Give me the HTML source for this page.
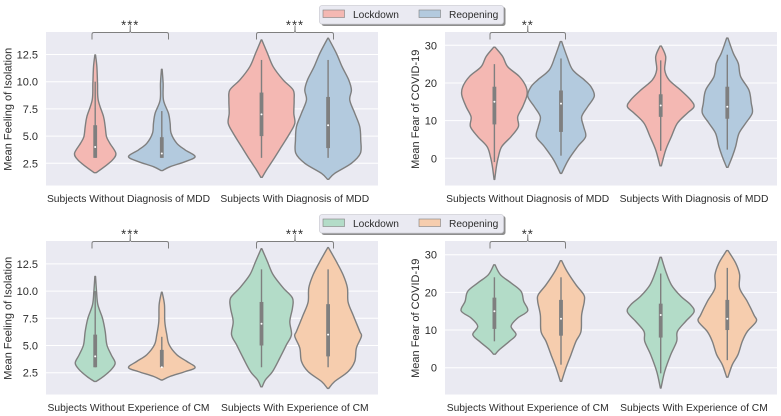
<!DOCTYPE html>
<html lang="en">
<head>
<meta charset="utf-8">
<title>Violin plots of isolation and fear of COVID-19</title>
<style>
html,body{margin:0;padding:0;background:#fff;width:781px;height:416px;overflow:hidden}
svg{display:block;font-family:"Liberation Sans",Arial,sans-serif;filter:blur(0.3px)}
text{fill:#2c2c2c}
</style>
</head>
<body>
<svg id="chart" width="781" height="416" viewBox="0 0 781 416" xmlns="http://www.w3.org/2000/svg"></svg>
<script>
// ---- Shared labels ----
const legendLabels = ['Lockdown', 'Reopening'];
const isolationTicks = [2.5, 5.0, 7.5, 10.0, 12.5];
const isolationTickLabels = ['2.5', '5.0', '7.5', '10.0', '12.5'];
const fearTicks = [0, 10, 20, 30];
const fearTickLabels = ['0', '10', '20', '30'];
const mddCategories = ['Subjects Without Diagnosis of MDD', 'Subjects With Diagnosis of MDD'];
const cmCategories = ['Subjects Without Experience of CM', 'Subjects With Experience of CM'];

// ---- Top-left: isolation by MDD. One row per violin ----
const isoMddLevels = [
  [12.46,11.38,9.85,8.32,6.79,5.87,4.95,4.34,3.42,2.81,2.19,1.64],
  [11.14,9.85,8.32,7.1,6.18,5.26,4.34,3.73,3.11,2.65,2.19,1.83],
  [13.84,12.6,11.38,10.16,9.24,8.32,7.1,6.18,5.26,4.03,2.81,1.89,1.21],
  [14.0,12.6,11.38,10.16,9.24,8.32,7.1,5.87,4.64,3.42,2.5,1.58,1.03]
];
const isoMddDensity = [
  [.01,.05,.07,.09,.25,.30,.34,.44,.62,.52,.28,.03],
  [.01,.04,.05,.20,.25,.28,.45,.70,1.0,.70,.25,.02],
  [.01,.18,.35,.65,.95,.98,.97,1.0,.85,.60,.35,.15,.02],
  [.01,.25,.42,.62,.70,.65,.80,.95,.98,.97,.70,.20,.02]
];
const isoMddStats = [[3,3,4,6,10],[3,3,3.4,4.9,7.3],[3,5,7,9,12],[3,3.9,6,8.6,12]];

// ---- Top-right: fear by MDD ----
const fearMddLevels = [
  [29.5,27,24.3,21.7,19,16.8,13.7,11,8.4,5.75,3.1,.44,-2.2,-5.6],
  [31,27,23.5,20.8,19,16.5,13.7,11,8.4,5.75,3.1,-.44,-4],
  [29.8,27,23.5,20.8,18.1,15.5,13.7,12,9.3,5.75,2.2,-2],
  [31.9,27.9,25.2,21.7,18.1,14.6,12,9.3,6.6,3.1,.44,-2.4]
];
const fearMddDensity = [
  [.02,.25,.40,.75,.95,.98,.85,.70,.72,.50,.22,.12,.06,.01],
  [.02,.18,.35,.70,.90,1.0,.80,.62,.68,.74,.50,.22,.02],
  [.02,.15,.12,.25,.60,.90,1.0,.80,.50,.32,.15,.02],
  [.02,.18,.33,.40,.65,.72,.75,.55,.35,.25,.15,.02]
];
const fearMddStats = [[-1,9,15,19,25],[.7,7,14.5,18,26.5],[2,11,14,17,26],[2.3,10.5,13.7,19,27.5]];

// ---- Bottom-left: isolation by CM ----
const isoCmLevels = [
  [11.35,9.98,8.75,7.5,6.3,5.07,4.15,3.39,2.78,2.16,1.7],
  [9.9,8.75,7.2,6,5.07,4.15,3.54,2.98,2.6,2.16,1.83],
  [13.9,12.7,11.5,10.3,9.36,8.44,7.2,6,5.07,3.85,2.6,1.85,1.2],
  [14,12.7,11.5,10.3,9,7.8,6.3,5.84,4.77,3.54,2.6,1.7,1.06]
];
const isoCmDensity = [
  [.01,.04,.08,.22,.30,.35,.48,.60,.48,.25,.03],
  [.01,.08,.09,.15,.22,.45,.75,1.0,.70,.25,.02],
  [.01,.18,.35,.65,.93,.93,.85,.90,.75,.55,.33,.12,.02],
  [.01,.25,.45,.58,.60,.75,.95,1.0,.85,.80,.60,.20,.02]
];
const isoCmStats = [[3,3,4,6,10],[3,3,3,4.6,5.8],[3,5,7,9,12],[3,4,6,8.8,12]];

// ---- Bottom-right: fear by CM ----
const fearCmLevels = [
  [27.3,24.7,22.5,20.3,17.6,15.1,13.2,11,8.8,7,4.8,3.6],
  [28.4,25.6,22,19.4,17.6,14,9.6,7,3.45,0,-3.6],
  [29.3,25.6,22,19,16.7,14.8,12.3,9.6,7,3.45,-1,-5.4],
  [31.1,27.8,24.7,21.1,17.6,14,12.3,9.6,7,3.45,.8,-2.5]
];
const fearCmDensity = [
  [.02,.18,.50,.80,.88,1.0,.70,.50,.65,.45,.15,.03],
  [.02,.18,.45,.68,.70,.62,.60,.45,.30,.15,.02],
  [.02,.15,.32,.60,.90,1.0,.75,.50,.48,.30,.12,.01],
  [.02,.25,.37,.37,.60,.80,.87,.60,.45,.32,.15,.02]
];
const fearCmStats = [[7,10.3,15,18.6,24],[.8,8.5,13,18,24],[-1.5,8,14,17,25],[2,10,13,18,26.5]];

const NS = 'http://www.w3.org/2000/svg';
const svg = document.getElementById('chart');
const GREY = '#7f7f7f';

function make(parent, tag, attrs, txt) {
  const n = document.createElementNS(NS, tag);
  for (const k in attrs) n.setAttribute(k, attrs[k]);
  if (txt !== undefined) n.textContent = txt;
  parent.appendChild(n);
  return n;
}

// Smooth curve through the outline points
function smooth(pts) {
  let d = 'M' + pts[0][0].toFixed(2) + ' ' + pts[0][1].toFixed(2);
  for (let i = 0; i < pts.length - 1; i++) {
    const p0 = pts[i - 1] || pts[i], p1 = pts[i], p2 = pts[i + 1], p3 = pts[i + 2] || p2;
    const c1x = p1[0] + (p2[0] - p0[0]) / 6, c1y = p1[1] + (p2[1] - p0[1]) / 6;
    const c2x = p2[0] - (p3[0] - p1[0]) / 6, c2y = p2[1] - (p3[1] - p1[1]) / 6;
    d += 'C' + c1x.toFixed(2) + ' ' + c1y.toFixed(2) + ' ' + c2x.toFixed(2) + ' ' + c2y.toFixed(2) + ' ' + p2[0].toFixed(2) + ' ' + p2[1].toFixed(2);
  }
  return d;
}

function drawBracket(parent, x0, x1, top) {
  const mid = (x0 + x1) / 2;
  const d = 'M' + x0 + ' ' + (top + 7) + 'V' + (top + 2) + 'Q' + x0 + ' ' + top + ' ' + (x0 + 2) + ' ' + top +
    'H' + (mid - 1) + 'Q' + mid + ' ' + top + ' ' + mid + ' ' + (top - 7) +
    'Q' + mid + ' ' + top + ' ' + (mid + 1) + ' ' + top +
    'H' + (x1 - 2) + 'Q' + x1 + ' ' + top + ' ' + x1 + ' ' + (top + 2) + 'V' + (top + 7);
  return make(parent, 'path', {d: d, fill: 'none', stroke: GREY, 'stroke-width': 1});
}

function drawPanel(p) {
  const g = make(svg, 'g', {});
  
  

  const yScale = v => p.y0 + (v - p.v0) * p.pxPerUnit;
  const xScale = (cat, hue) => p.cat0 + cat * p.catStep + (hue === 0 ? -1 : 1) * p.dodge;

  const bg = make(g, 'rect', {x: p.left, y: p.top, width: p.width, height: p.height, fill: '#eaeaf2'});
  
  

  p.ticks.forEach((t, i) => {
    const yy = yScale(t);
    const line = make(g, 'line', {x1: p.left, x2: p.left + p.width, y1: yy, y2: yy, stroke: '#fff', 'stroke-width': 1});
    
    
    const lab = make(g, 'text', {x: p.left - 8, y: yy + 4, 'text-anchor': 'end', 'font-size': 11}, p.tickLabels[i]);
    
    
  });

  const midY = p.top + p.height / 2;
  const title = make(g, 'text', {x: 0, y: 0, transform: 'translate(' + p.titleX + ' ' + (midY + 0.5) + ') rotate(-90)', 'text-anchor': 'middle', 'font-size': 11}, p.title);
  
  

  p.categories.forEach((c, i) => {
    const lab = make(g, 'text', {x: p.cat0 + i * p.catStep, y: p.top + p.height + 16.5, 'text-anchor': 'middle', 'font-size': 10.3}, c);
    
    
  });

  p.levels.forEach((levels, i) => {
    const cat = Math.floor(i / 2), hue = i % 2;
    const cx = xScale(cat, hue);
    const right = levels.map((v, k) => [cx + p.density[i][k] * p.halfWidth, yScale(v)]);
    const left = levels.map((v, k) => [cx - p.density[i][k] * p.halfWidth, yScale(v)]);
    const d = smooth(right) + 'L' + left[left.length - 1][0].toFixed(2) + ' ' + left[left.length - 1][1].toFixed(2) + smooth(left.slice().reverse()).replace(/^M[^C]*/, '') + 'Z';
    const vg = make(g, 'g', {});
    
    
    make(vg, 'path', {d: d, fill: p.colors[hue], stroke: GREY, 'stroke-width': 1.4, 'stroke-linejoin': 'round'});
    const s = p.stats[i];
    make(vg, 'line', {x1: cx, x2: cx, y1: yScale(s[0]), y2: yScale(s[4]), stroke: GREY, 'stroke-width': 1.4});
    make(vg, 'line', {x1: cx, x2: cx, y1: yScale(s[1]), y2: yScale(s[3]), stroke: GREY, 'stroke-width': 3.8});
    make(vg, 'circle', {cx: cx, cy: yScale(s[2]), r: 1, fill: '#fff'});
  });

  p.brackets.forEach(b => {
    const path = drawBracket(svg, b.from, b.to, p.top + 0.5);
    
    
    const st = make(svg, 'text', {x: (b.from + b.to) / 2, y: p.top - 2.5, 'text-anchor': 'middle', 'font-size': 13, 'letter-spacing': '1'}, b.label);
    
    
  });
}

function drawLegend(top, colors) {
  const g = make(svg, 'g', {});
  
  
  make(g, 'rect', {x: 321.5, y: top + 2, width: 184, height: 19, rx: 2.5, fill: '#8e8e8e'});
  make(g, 'rect', {x: 319.5, y: top + 0.5, width: 184, height: 18.5, rx: 2.5, fill: '#eaeaf2', stroke: '#cfcfd6', 'stroke-width': 0.8});
  [[323, 353], [419, 449]].forEach((pos, i) => {
    const sw = make(g, 'rect', {x: pos[0], y: top + 5, width: 21.5, height: 7.5, fill: colors[i], stroke: GREY, 'stroke-width': 0.6});
    
    
    const t = make(g, 'text', {x: pos[1], y: top + 13, 'font-size': 10.2}, legendLabels[i]);
    
    
  });
}

const pinkBlue = ['#f4b8b3', '#b3cade'];
const greenOrange = ['#b3dcc8', '#f6cdae'];

const isoBase = {left: 46, width: 332, height: 153.5, cat0: 128.5, catStep: 166.3, dodge: 33.3, halfWidth: 33.3,
  v0: 2.5, pxPerUnit: -10.88, ticks: isolationTicks, tickLabels: isolationTickLabels, titleX: 11.5, title: 'Mean Feeling of Isolation'};
const fearBase = {left: 445, width: 332, height: 153.5, cat0: 527.7, catStep: 166.3, dodge: 33.3, halfWidth: 33.3,
  v0: 0, pxPerUnit: -3.767, ticks: fearTicks, tickLabels: fearTickLabels, titleX: 419, title: 'Mean Fear of COVID-19'};
const isoBrackets = [{from: 92, to: 168.5, label: '***'}, {from: 256.5, to: 333.5, label: '***'}];
const fearBrackets = [{from: 490, to: 565.5, label: '**'}];

drawPanel(Object.assign({}, isoBase, {name: 'isolation-by-mdd-panel', top: 32, y0: 163.3, categories: mddCategories, levels: isoMddLevels, density: isoMddDensity, stats: isoMddStats, colors: pinkBlue, brackets: isoBrackets}));
drawPanel(Object.assign({}, fearBase, {name: 'fear-by-mdd-panel', top: 32, y0: 158.3, categories: mddCategories, levels: fearMddLevels, density: fearMddDensity, stats: fearMddStats, colors: pinkBlue, brackets: fearBrackets}));
drawPanel(Object.assign({}, isoBase, {name: 'isolation-by-cm-panel', top: 241, y0: 372.7, categories: cmCategories, levels: isoCmLevels, density: isoCmDensity, stats: isoCmStats, colors: greenOrange, brackets: isoBrackets}));
drawPanel(Object.assign({}, fearBase, {name: 'fear-by-cm-panel', top: 241, y0: 367.7, categories: cmCategories, levels: fearCmLevels, density: fearCmDensity, stats: fearCmStats, colors: greenOrange, brackets: fearBrackets}));

drawLegend(5, pinkBlue);
drawLegend(214, greenOrange);
</script>
</body>
</html>
